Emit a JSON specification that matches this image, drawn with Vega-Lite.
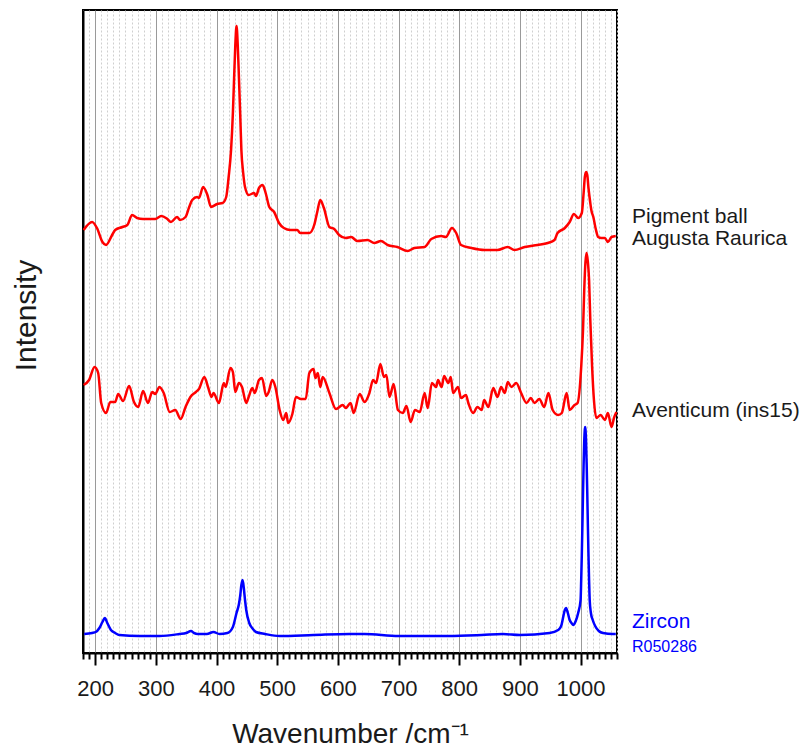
{
  "$schema": "https://vega.github.io/schema/vega-lite/v6.json",
  "width": 534,
  "height": 643,
  "autosize": {"type": "none"},
  "padding": {"left": 83, "top": 10, "right": 188, "bottom": 98},
  "background": "white",
  "config": {
    "font": "Liberation Sans",
    "view": {"stroke": "black", "strokeWidth": 2}
  },
  "datasets": {
    "spectra": [
      {"series": "Pigment ball", "wavenumber": 181, "intensity": 423},
      {"series": "Pigment ball", "wavenumber": 195, "intensity": 431},
      {"series": "Pigment ball", "wavenumber": 203, "intensity": 425},
      {"series": "Pigment ball", "wavenumber": 212, "intensity": 411},
      {"series": "Pigment ball", "wavenumber": 218, "intensity": 408},
      {"series": "Pigment ball", "wavenumber": 228, "intensity": 418},
      {"series": "Pigment ball", "wavenumber": 233, "intensity": 423},
      {"series": "Pigment ball", "wavenumber": 245, "intensity": 426},
      {"series": "Pigment ball", "wavenumber": 253, "intensity": 428},
      {"series": "Pigment ball", "wavenumber": 261, "intensity": 438},
      {"series": "Pigment ball", "wavenumber": 269, "intensity": 435},
      {"series": "Pigment ball", "wavenumber": 279, "intensity": 434},
      {"series": "Pigment ball", "wavenumber": 289, "intensity": 434},
      {"series": "Pigment ball", "wavenumber": 299, "intensity": 434},
      {"series": "Pigment ball", "wavenumber": 309, "intensity": 437},
      {"series": "Pigment ball", "wavenumber": 319, "intensity": 434},
      {"series": "Pigment ball", "wavenumber": 325, "intensity": 431},
      {"series": "Pigment ball", "wavenumber": 335, "intensity": 436},
      {"series": "Pigment ball", "wavenumber": 340, "intensity": 433},
      {"series": "Pigment ball", "wavenumber": 349, "intensity": 436},
      {"series": "Pigment ball", "wavenumber": 355, "intensity": 446},
      {"series": "Pigment ball", "wavenumber": 360, "intensity": 453},
      {"series": "Pigment ball", "wavenumber": 368, "intensity": 456},
      {"series": "Pigment ball", "wavenumber": 371, "intensity": 455},
      {"series": "Pigment ball", "wavenumber": 378, "intensity": 466},
      {"series": "Pigment ball", "wavenumber": 385, "intensity": 458},
      {"series": "Pigment ball", "wavenumber": 391, "intensity": 446},
      {"series": "Pigment ball", "wavenumber": 401, "intensity": 449},
      {"series": "Pigment ball", "wavenumber": 410, "intensity": 450},
      {"series": "Pigment ball", "wavenumber": 416, "intensity": 456},
      {"series": "Pigment ball", "wavenumber": 420, "intensity": 476},
      {"series": "Pigment ball", "wavenumber": 424, "intensity": 503},
      {"series": "Pigment ball", "wavenumber": 427, "intensity": 540},
      {"series": "Pigment ball", "wavenumber": 429, "intensity": 575},
      {"series": "Pigment ball", "wavenumber": 431, "intensity": 608},
      {"series": "Pigment ball", "wavenumber": 433, "intensity": 627},
      {"series": "Pigment ball", "wavenumber": 435, "intensity": 608},
      {"series": "Pigment ball", "wavenumber": 437, "intensity": 575},
      {"series": "Pigment ball", "wavenumber": 439, "intensity": 540},
      {"series": "Pigment ball", "wavenumber": 441, "intensity": 503},
      {"series": "Pigment ball", "wavenumber": 444, "intensity": 480},
      {"series": "Pigment ball", "wavenumber": 447, "intensity": 466},
      {"series": "Pigment ball", "wavenumber": 453, "intensity": 458},
      {"series": "Pigment ball", "wavenumber": 462, "intensity": 460},
      {"series": "Pigment ball", "wavenumber": 465, "intensity": 457},
      {"series": "Pigment ball", "wavenumber": 470, "intensity": 465},
      {"series": "Pigment ball", "wavenumber": 476, "intensity": 468},
      {"series": "Pigment ball", "wavenumber": 481, "intensity": 460},
      {"series": "Pigment ball", "wavenumber": 487, "intensity": 446},
      {"series": "Pigment ball", "wavenumber": 495, "intensity": 441},
      {"series": "Pigment ball", "wavenumber": 503, "intensity": 430},
      {"series": "Pigment ball", "wavenumber": 511, "intensity": 425},
      {"series": "Pigment ball", "wavenumber": 522, "intensity": 423},
      {"series": "Pigment ball", "wavenumber": 533, "intensity": 423},
      {"series": "Pigment ball", "wavenumber": 538, "intensity": 420},
      {"series": "Pigment ball", "wavenumber": 553, "intensity": 420},
      {"series": "Pigment ball", "wavenumber": 561, "intensity": 428},
      {"series": "Pigment ball", "wavenumber": 566, "intensity": 441},
      {"series": "Pigment ball", "wavenumber": 571, "intensity": 453},
      {"series": "Pigment ball", "wavenumber": 577, "intensity": 445},
      {"series": "Pigment ball", "wavenumber": 586, "intensity": 426},
      {"series": "Pigment ball", "wavenumber": 594, "intensity": 424},
      {"series": "Pigment ball", "wavenumber": 602, "intensity": 418},
      {"series": "Pigment ball", "wavenumber": 613, "intensity": 415},
      {"series": "Pigment ball", "wavenumber": 622, "intensity": 416},
      {"series": "Pigment ball", "wavenumber": 632, "intensity": 412},
      {"series": "Pigment ball", "wavenumber": 649, "intensity": 413},
      {"series": "Pigment ball", "wavenumber": 660, "intensity": 410},
      {"series": "Pigment ball", "wavenumber": 671, "intensity": 412},
      {"series": "Pigment ball", "wavenumber": 682, "intensity": 408},
      {"series": "Pigment ball", "wavenumber": 698, "intensity": 406},
      {"series": "Pigment ball", "wavenumber": 715, "intensity": 402},
      {"series": "Pigment ball", "wavenumber": 726, "intensity": 405},
      {"series": "Pigment ball", "wavenumber": 743, "intensity": 406},
      {"series": "Pigment ball", "wavenumber": 754, "intensity": 414},
      {"series": "Pigment ball", "wavenumber": 770, "intensity": 417},
      {"series": "Pigment ball", "wavenumber": 778, "intensity": 416},
      {"series": "Pigment ball", "wavenumber": 788, "intensity": 425},
      {"series": "Pigment ball", "wavenumber": 795, "intensity": 420},
      {"series": "Pigment ball", "wavenumber": 803, "intensity": 408},
      {"series": "Pigment ball", "wavenumber": 820, "intensity": 405},
      {"series": "Pigment ball", "wavenumber": 842, "intensity": 403},
      {"series": "Pigment ball", "wavenumber": 863, "intensity": 403},
      {"series": "Pigment ball", "wavenumber": 880, "intensity": 406},
      {"series": "Pigment ball", "wavenumber": 891, "intensity": 403},
      {"series": "Pigment ball", "wavenumber": 908, "intensity": 406},
      {"series": "Pigment ball", "wavenumber": 929, "intensity": 408},
      {"series": "Pigment ball", "wavenumber": 946, "intensity": 410},
      {"series": "Pigment ball", "wavenumber": 957, "intensity": 413},
      {"series": "Pigment ball", "wavenumber": 962, "intensity": 420},
      {"series": "Pigment ball", "wavenumber": 974, "intensity": 425},
      {"series": "Pigment ball", "wavenumber": 982, "intensity": 431},
      {"series": "Pigment ball", "wavenumber": 989, "intensity": 439},
      {"series": "Pigment ball", "wavenumber": 996, "intensity": 435},
      {"series": "Pigment ball", "wavenumber": 1002, "intensity": 440},
      {"series": "Pigment ball", "wavenumber": 1005, "intensity": 460},
      {"series": "Pigment ball", "wavenumber": 1007, "intensity": 476},
      {"series": "Pigment ball", "wavenumber": 1009, "intensity": 481},
      {"series": "Pigment ball", "wavenumber": 1011, "intensity": 478},
      {"series": "Pigment ball", "wavenumber": 1013, "intensity": 465},
      {"series": "Pigment ball", "wavenumber": 1016, "intensity": 450},
      {"series": "Pigment ball", "wavenumber": 1018, "intensity": 442},
      {"series": "Pigment ball", "wavenumber": 1021, "intensity": 436},
      {"series": "Pigment ball", "wavenumber": 1025, "intensity": 424},
      {"series": "Pigment ball", "wavenumber": 1029, "intensity": 416},
      {"series": "Pigment ball", "wavenumber": 1034, "intensity": 415},
      {"series": "Pigment ball", "wavenumber": 1040, "intensity": 415},
      {"series": "Pigment ball", "wavenumber": 1045, "intensity": 411},
      {"series": "Pigment ball", "wavenumber": 1051, "intensity": 416},
      {"series": "Pigment ball", "wavenumber": 1058, "intensity": 417},

      {"series": "Aventicum", "wavenumber": 181, "intensity": 268},
      {"series": "Aventicum", "wavenumber": 190, "intensity": 273},
      {"series": "Aventicum", "wavenumber": 199, "intensity": 286},
      {"series": "Aventicum", "wavenumber": 205, "intensity": 280},
      {"series": "Aventicum", "wavenumber": 210, "intensity": 250},
      {"series": "Aventicum", "wavenumber": 218, "intensity": 240},
      {"series": "Aventicum", "wavenumber": 225, "intensity": 251},
      {"series": "Aventicum", "wavenumber": 233, "intensity": 251},
      {"series": "Aventicum", "wavenumber": 238, "intensity": 259},
      {"series": "Aventicum", "wavenumber": 246, "intensity": 252},
      {"series": "Aventicum", "wavenumber": 256, "intensity": 267},
      {"series": "Aventicum", "wavenumber": 264, "intensity": 251},
      {"series": "Aventicum", "wavenumber": 271, "intensity": 246},
      {"series": "Aventicum", "wavenumber": 279, "intensity": 262},
      {"series": "Aventicum", "wavenumber": 287, "intensity": 250},
      {"series": "Aventicum", "wavenumber": 294, "intensity": 261},
      {"series": "Aventicum", "wavenumber": 299, "intensity": 259},
      {"series": "Aventicum", "wavenumber": 306, "intensity": 266},
      {"series": "Aventicum", "wavenumber": 313, "intensity": 260},
      {"series": "Aventicum", "wavenumber": 323, "intensity": 241},
      {"series": "Aventicum", "wavenumber": 332, "intensity": 243},
      {"series": "Aventicum", "wavenumber": 341, "intensity": 234},
      {"series": "Aventicum", "wavenumber": 349, "intensity": 246},
      {"series": "Aventicum", "wavenumber": 357, "intensity": 256},
      {"series": "Aventicum", "wavenumber": 366, "intensity": 261},
      {"series": "Aventicum", "wavenumber": 371, "intensity": 264},
      {"series": "Aventicum", "wavenumber": 380, "intensity": 276},
      {"series": "Aventicum", "wavenumber": 386, "intensity": 266},
      {"series": "Aventicum", "wavenumber": 392, "intensity": 256},
      {"series": "Aventicum", "wavenumber": 395, "intensity": 260},
      {"series": "Aventicum", "wavenumber": 404, "intensity": 250},
      {"series": "Aventicum", "wavenumber": 412, "intensity": 270},
      {"series": "Aventicum", "wavenumber": 415, "intensity": 266},
      {"series": "Aventicum", "wavenumber": 423, "intensity": 285},
      {"series": "Aventicum", "wavenumber": 427, "intensity": 281},
      {"series": "Aventicum", "wavenumber": 431, "intensity": 261},
      {"series": "Aventicum", "wavenumber": 437, "intensity": 270},
      {"series": "Aventicum", "wavenumber": 442, "intensity": 266},
      {"series": "Aventicum", "wavenumber": 449, "intensity": 250},
      {"series": "Aventicum", "wavenumber": 453, "intensity": 256},
      {"series": "Aventicum", "wavenumber": 459, "intensity": 265},
      {"series": "Aventicum", "wavenumber": 463, "intensity": 260},
      {"series": "Aventicum", "wavenumber": 470, "intensity": 273},
      {"series": "Aventicum", "wavenumber": 475, "intensity": 275},
      {"series": "Aventicum", "wavenumber": 482, "intensity": 257},
      {"series": "Aventicum", "wavenumber": 486, "intensity": 261},
      {"series": "Aventicum", "wavenumber": 492, "intensity": 273},
      {"series": "Aventicum", "wavenumber": 497, "intensity": 266},
      {"series": "Aventicum", "wavenumber": 504, "intensity": 243},
      {"series": "Aventicum", "wavenumber": 510, "intensity": 233},
      {"series": "Aventicum", "wavenumber": 515, "intensity": 240},
      {"series": "Aventicum", "wavenumber": 518, "intensity": 230},
      {"series": "Aventicum", "wavenumber": 525, "intensity": 239},
      {"series": "Aventicum", "wavenumber": 531, "intensity": 256},
      {"series": "Aventicum", "wavenumber": 539, "intensity": 254},
      {"series": "Aventicum", "wavenumber": 547, "intensity": 254},
      {"series": "Aventicum", "wavenumber": 553, "intensity": 280},
      {"series": "Aventicum", "wavenumber": 560, "intensity": 284},
      {"series": "Aventicum", "wavenumber": 563, "intensity": 275},
      {"series": "Aventicum", "wavenumber": 567, "intensity": 280},
      {"series": "Aventicum", "wavenumber": 571, "intensity": 266},
      {"series": "Aventicum", "wavenumber": 575, "intensity": 276},
      {"series": "Aventicum", "wavenumber": 586, "intensity": 260},
      {"series": "Aventicum", "wavenumber": 597, "intensity": 244},
      {"series": "Aventicum", "wavenumber": 608, "intensity": 248},
      {"series": "Aventicum", "wavenumber": 613, "intensity": 245},
      {"series": "Aventicum", "wavenumber": 621, "intensity": 250},
      {"series": "Aventicum", "wavenumber": 626, "intensity": 240},
      {"series": "Aventicum", "wavenumber": 636, "intensity": 259},
      {"series": "Aventicum", "wavenumber": 644, "intensity": 251},
      {"series": "Aventicum", "wavenumber": 652, "intensity": 260},
      {"series": "Aventicum", "wavenumber": 658, "intensity": 273},
      {"series": "Aventicum", "wavenumber": 663, "intensity": 270},
      {"series": "Aventicum", "wavenumber": 670, "intensity": 289},
      {"series": "Aventicum", "wavenumber": 676, "intensity": 276},
      {"series": "Aventicum", "wavenumber": 680, "intensity": 278},
      {"series": "Aventicum", "wavenumber": 685, "intensity": 256},
      {"series": "Aventicum", "wavenumber": 692, "intensity": 269},
      {"series": "Aventicum", "wavenumber": 699, "intensity": 243},
      {"series": "Aventicum", "wavenumber": 707, "intensity": 240},
      {"series": "Aventicum", "wavenumber": 713, "intensity": 247},
      {"series": "Aventicum", "wavenumber": 720, "intensity": 231},
      {"series": "Aventicum", "wavenumber": 727, "intensity": 243},
      {"series": "Aventicum", "wavenumber": 735, "intensity": 241},
      {"series": "Aventicum", "wavenumber": 743, "intensity": 260},
      {"series": "Aventicum", "wavenumber": 748, "intensity": 245},
      {"series": "Aventicum", "wavenumber": 755, "intensity": 270},
      {"series": "Aventicum", "wavenumber": 762, "intensity": 266},
      {"series": "Aventicum", "wavenumber": 765, "intensity": 273},
      {"series": "Aventicum", "wavenumber": 771, "intensity": 266},
      {"series": "Aventicum", "wavenumber": 775, "intensity": 277},
      {"series": "Aventicum", "wavenumber": 782, "intensity": 270},
      {"series": "Aventicum", "wavenumber": 786, "intensity": 276},
      {"series": "Aventicum", "wavenumber": 790, "intensity": 260},
      {"series": "Aventicum", "wavenumber": 798, "intensity": 266},
      {"series": "Aventicum", "wavenumber": 803, "intensity": 255},
      {"series": "Aventicum", "wavenumber": 811, "intensity": 258},
      {"series": "Aventicum", "wavenumber": 815, "intensity": 250},
      {"series": "Aventicum", "wavenumber": 823, "intensity": 240},
      {"series": "Aventicum", "wavenumber": 830, "intensity": 246},
      {"series": "Aventicum", "wavenumber": 837, "intensity": 243},
      {"series": "Aventicum", "wavenumber": 841, "intensity": 253},
      {"series": "Aventicum", "wavenumber": 848, "intensity": 246},
      {"series": "Aventicum", "wavenumber": 856, "intensity": 265},
      {"series": "Aventicum", "wavenumber": 863, "intensity": 256},
      {"series": "Aventicum", "wavenumber": 869, "intensity": 266},
      {"series": "Aventicum", "wavenumber": 875, "intensity": 260},
      {"series": "Aventicum", "wavenumber": 880, "intensity": 271},
      {"series": "Aventicum", "wavenumber": 886, "intensity": 266},
      {"series": "Aventicum", "wavenumber": 894, "intensity": 270},
      {"series": "Aventicum", "wavenumber": 902, "intensity": 260},
      {"series": "Aventicum", "wavenumber": 911, "intensity": 250},
      {"series": "Aventicum", "wavenumber": 918, "intensity": 255},
      {"series": "Aventicum", "wavenumber": 924, "intensity": 250},
      {"series": "Aventicum", "wavenumber": 932, "intensity": 254},
      {"series": "Aventicum", "wavenumber": 940, "intensity": 246},
      {"series": "Aventicum", "wavenumber": 947, "intensity": 260},
      {"series": "Aventicum", "wavenumber": 954, "intensity": 243},
      {"series": "Aventicum", "wavenumber": 963, "intensity": 238},
      {"series": "Aventicum", "wavenumber": 969, "intensity": 240},
      {"series": "Aventicum", "wavenumber": 977, "intensity": 260},
      {"series": "Aventicum", "wavenumber": 982, "intensity": 243},
      {"series": "Aventicum", "wavenumber": 990, "intensity": 248},
      {"series": "Aventicum", "wavenumber": 995, "intensity": 250},
      {"series": "Aventicum", "wavenumber": 1001, "intensity": 286},
      {"series": "Aventicum", "wavenumber": 1004, "intensity": 323},
      {"series": "Aventicum", "wavenumber": 1006, "intensity": 363},
      {"series": "Aventicum", "wavenumber": 1008, "intensity": 391},
      {"series": "Aventicum", "wavenumber": 1010, "intensity": 400},
      {"series": "Aventicum", "wavenumber": 1012, "intensity": 391},
      {"series": "Aventicum", "wavenumber": 1014, "intensity": 373},
      {"series": "Aventicum", "wavenumber": 1016, "intensity": 333},
      {"series": "Aventicum", "wavenumber": 1019, "intensity": 286},
      {"series": "Aventicum", "wavenumber": 1022, "intensity": 253},
      {"series": "Aventicum", "wavenumber": 1026, "intensity": 235},
      {"series": "Aventicum", "wavenumber": 1033, "intensity": 238},
      {"series": "Aventicum", "wavenumber": 1040, "intensity": 233},
      {"series": "Aventicum", "wavenumber": 1045, "intensity": 240},
      {"series": "Aventicum", "wavenumber": 1051, "intensity": 226},
      {"series": "Aventicum", "wavenumber": 1055, "intensity": 235},
      {"series": "Aventicum", "wavenumber": 1059, "intensity": 241},

      {"series": "Zircon", "wavenumber": 182, "intensity": 19},
      {"series": "Zircon", "wavenumber": 195, "intensity": 20},
      {"series": "Zircon", "wavenumber": 201, "intensity": 21},
      {"series": "Zircon", "wavenumber": 207, "intensity": 25},
      {"series": "Zircon", "wavenumber": 212, "intensity": 31},
      {"series": "Zircon", "wavenumber": 216, "intensity": 35},
      {"series": "Zircon", "wavenumber": 220, "intensity": 30},
      {"series": "Zircon", "wavenumber": 226, "intensity": 23},
      {"series": "Zircon", "wavenumber": 233, "intensity": 20},
      {"series": "Zircon", "wavenumber": 240, "intensity": 18},
      {"series": "Zircon", "wavenumber": 273, "intensity": 17},
      {"series": "Zircon", "wavenumber": 306, "intensity": 17},
      {"series": "Zircon", "wavenumber": 339, "intensity": 19},
      {"series": "Zircon", "wavenumber": 350, "intensity": 20},
      {"series": "Zircon", "wavenumber": 358, "intensity": 22},
      {"series": "Zircon", "wavenumber": 363, "intensity": 20},
      {"series": "Zircon", "wavenumber": 369, "intensity": 19},
      {"series": "Zircon", "wavenumber": 384, "intensity": 19},
      {"series": "Zircon", "wavenumber": 395, "intensity": 21},
      {"series": "Zircon", "wavenumber": 405, "intensity": 19},
      {"series": "Zircon", "wavenumber": 418, "intensity": 20},
      {"series": "Zircon", "wavenumber": 427, "intensity": 26},
      {"series": "Zircon", "wavenumber": 433, "intensity": 40},
      {"series": "Zircon", "wavenumber": 437, "intensity": 49},
      {"series": "Zircon", "wavenumber": 439, "intensity": 57},
      {"series": "Zircon", "wavenumber": 441, "intensity": 68},
      {"series": "Zircon", "wavenumber": 443, "intensity": 73},
      {"series": "Zircon", "wavenumber": 445, "intensity": 65},
      {"series": "Zircon", "wavenumber": 447, "intensity": 53},
      {"series": "Zircon", "wavenumber": 449, "intensity": 43},
      {"series": "Zircon", "wavenumber": 454, "intensity": 30},
      {"series": "Zircon", "wavenumber": 460, "intensity": 24},
      {"series": "Zircon", "wavenumber": 465, "intensity": 21},
      {"series": "Zircon", "wavenumber": 480, "intensity": 19},
      {"series": "Zircon", "wavenumber": 504, "intensity": 17},
      {"series": "Zircon", "wavenumber": 560, "intensity": 18},
      {"series": "Zircon", "wavenumber": 619, "intensity": 19},
      {"series": "Zircon", "wavenumber": 644, "intensity": 19},
      {"series": "Zircon", "wavenumber": 700, "intensity": 17},
      {"series": "Zircon", "wavenumber": 782, "intensity": 17},
      {"series": "Zircon", "wavenumber": 837, "intensity": 18},
      {"series": "Zircon", "wavenumber": 872, "intensity": 19},
      {"series": "Zircon", "wavenumber": 900, "intensity": 18},
      {"series": "Zircon", "wavenumber": 949, "intensity": 20},
      {"series": "Zircon", "wavenumber": 963, "intensity": 23},
      {"series": "Zircon", "wavenumber": 968, "intensity": 27},
      {"series": "Zircon", "wavenumber": 971, "intensity": 35},
      {"series": "Zircon", "wavenumber": 974, "intensity": 43},
      {"series": "Zircon", "wavenumber": 976, "intensity": 45},
      {"series": "Zircon", "wavenumber": 979, "intensity": 40},
      {"series": "Zircon", "wavenumber": 982, "intensity": 33},
      {"series": "Zircon", "wavenumber": 985, "intensity": 30},
      {"series": "Zircon", "wavenumber": 988, "intensity": 28},
      {"series": "Zircon", "wavenumber": 992, "intensity": 32},
      {"series": "Zircon", "wavenumber": 996, "intensity": 40},
      {"series": "Zircon", "wavenumber": 1000, "intensity": 53},
      {"series": "Zircon", "wavenumber": 1001, "intensity": 73},
      {"series": "Zircon", "wavenumber": 1002, "intensity": 98},
      {"series": "Zircon", "wavenumber": 1003, "intensity": 128},
      {"series": "Zircon", "wavenumber": 1004, "intensity": 160},
      {"series": "Zircon", "wavenumber": 1005, "intensity": 189},
      {"series": "Zircon", "wavenumber": 1006, "intensity": 212},
      {"series": "Zircon", "wavenumber": 1007, "intensity": 224},
      {"series": "Zircon", "wavenumber": 1007.5, "intensity": 226},
      {"series": "Zircon", "wavenumber": 1008, "intensity": 224},
      {"series": "Zircon", "wavenumber": 1009, "intensity": 212},
      {"series": "Zircon", "wavenumber": 1010, "intensity": 189},
      {"series": "Zircon", "wavenumber": 1011, "intensity": 160},
      {"series": "Zircon", "wavenumber": 1012, "intensity": 128},
      {"series": "Zircon", "wavenumber": 1013, "intensity": 98},
      {"series": "Zircon", "wavenumber": 1014, "intensity": 73},
      {"series": "Zircon", "wavenumber": 1015, "intensity": 53},
      {"series": "Zircon", "wavenumber": 1017, "intensity": 40},
      {"series": "Zircon", "wavenumber": 1020, "intensity": 33},
      {"series": "Zircon", "wavenumber": 1024, "intensity": 27},
      {"series": "Zircon", "wavenumber": 1030, "intensity": 22},
      {"series": "Zircon", "wavenumber": 1037, "intensity": 20},
      {"series": "Zircon", "wavenumber": 1053, "intensity": 19},
      {"series": "Zircon", "wavenumber": 1058, "intensity": 19}
    ]
  },
  "layer": [
    {
      "description": "Minor axis: ticks and dotted grid every 10 cm-1",
      "data": {"values": [{"label": "Zircon"}]},
      "mark": {"type": "text", "align": "left", "baseline": "alphabetic", "dx": 15, "fontSize": 21, "color": "#0000ff"},
      "encoding": {
        "x": {
          "datum": 1060,
          "type": "quantitative",
          "scale": {"domain": [180, 1060], "nice": false, "zero": false},
          "axis": {
            "orient": "bottom",
            "values": [180, 190, 210, 220, 230, 240, 250, 260, 270, 280, 290, 310, 320, 330, 340, 350, 360, 370, 380, 390, 410, 420, 430, 440, 450, 460, 470, 480, 490, 510, 520, 530, 540, 550, 560, 570, 580, 590, 610, 620, 630, 640, 650, 660, 670, 680, 690, 710, 720, 730, 740, 750, 760, 770, 780, 790, 810, 820, 830, 840, 850, 860, 870, 880, 890, 910, 920, 930, 940, 950, 960, 970, 980, 990, 1010, 1020, 1030, 1040, 1050, 1060],
            "grid": true,
            "gridColor": "#cfcfcf",
            "gridDash": [2, 2],
            "gridWidth": 1,
            "ticks": true,
            "tickSize": 6,
            "tickWidth": 2,
            "tickColor": "black",
            "labels": false,
            "domain": false,
            "title": null
          }
        },
        "y": {"datum": 25, "type": "quantitative", "axis": null},
        "text": {"field": "label"}
      }
    },
    {
      "data": {"name": "spectra"},
      "mark": {"type": "line", "strokeWidth": 2.5, "interpolate": "monotone"},
      "encoding": {
        "x": {
          "field": "wavenumber",
          "type": "quantitative",
          "axis": {
            "orient": "bottom",
            "values": [200, 300, 400, 500, 600, 700, 800, 900, 1000],
            "format": "d",
            "grid": true,
            "gridColor": "#9a9a9a",
            "gridWidth": 1,
            "tickSize": 12,
            "tickWidth": 2,
            "tickColor": "black",
            "domainColor": "black",
            "domainWidth": 2,
            "labelFont": "Liberation Sans",
            "labelFontSize": 22,
            "labelColor": "#1a1a1a",
            "labelBaseline": "alphabetic",
            "labelPadding": 30,
            "title": "Wavenumber /cm⁻¹",
            "titleFont": "Liberation Sans",
            "titleFontSize": 28,
            "titleFontWeight": "normal",
            "titleColor": "#1a1a1a",
            "titleBaseline": "alphabetic",
            "titleY": 89
          }
        },
        "y": {
          "field": "intensity",
          "type": "quantitative",
          "scale": {"domain": [0, 643], "nice": false},
          "axis": {
            "ticks": false,
            "labels": false,
            "grid": false,
            "domainColor": "black",
            "domainWidth": 2,
            "title": "Intensity",
            "titleFont": "Liberation Sans",
            "titleFontSize": 30,
            "titleFontWeight": "normal",
            "titleColor": "#1a1a1a",
            "titleAngle": -90,
            "titleAlign": "center",
            "titleBaseline": "alphabetic",
            "titleX": -48,
            "titleY": 305
          }
        },
        "color": {
          "field": "series",
          "type": "nominal",
          "scale": {"domain": ["Pigment ball", "Aventicum", "Zircon"], "range": ["#ff0000", "#ff0000", "#0000ff"]},
          "legend": null
        },
        "order": {"field": "wavenumber", "type": "quantitative"}
      }
    },
    {
      "data": {"values": [{"label": ["Pigment ball", "Augusta Raurica"]}]},
      "mark": {"type": "text", "align": "left", "baseline": "alphabetic", "dx": 15, "fontSize": 21, "lineHeight": 22, "color": "#1a1a1a"},
      "encoding": {
        "x": {"datum": 1060, "type": "quantitative", "axis": null},
        "y": {"datum": 430, "type": "quantitative", "axis": null},
        "text": {"field": "label"}
      }
    },
    {
      "data": {"values": [{"label": "Aventicum (ins15)"}]},
      "mark": {"type": "text", "align": "left", "baseline": "alphabetic", "dx": 15, "fontSize": 21, "color": "#1a1a1a"},
      "encoding": {
        "x": {"datum": 1060, "type": "quantitative", "axis": null},
        "y": {"datum": 236, "type": "quantitative", "axis": null},
        "text": {"field": "label"}
      }
    },
    {
      "data": {"values": [{"label": "R050286"}]},
      "mark": {"type": "text", "align": "left", "baseline": "alphabetic", "dx": 15, "fontSize": 16, "color": "#0000ff"},
      "encoding": {
        "x": {"datum": 1060, "type": "quantitative", "axis": null},
        "y": {"datum": 1, "type": "quantitative", "axis": null},
        "text": {"field": "label"}
      }
    }
  ],
  "resolve": {"axis": {"x": "independent", "y": "independent"}}
}
